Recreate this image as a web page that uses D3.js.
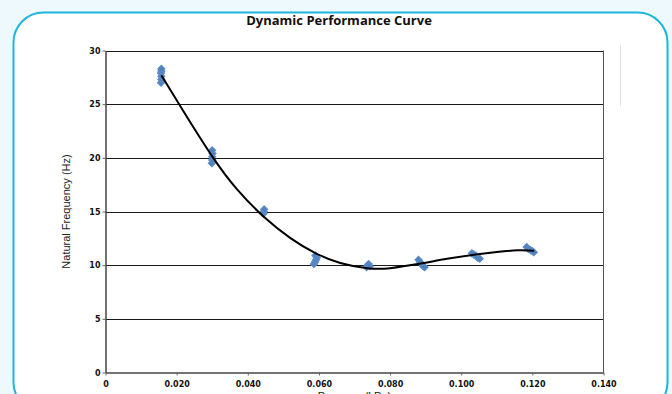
<!DOCTYPE html>
<html><head><meta charset="utf-8">
<script src="https://cdn.jsdelivr.net/npm/d3@7"></script>
<style>
html,body{margin:0;padding:0;background:#eef9fd;}
svg{display:block;}
</style></head>
<body>
<svg id="chart" width="672" height="394"></svg>
<script>
// ---- data ----
const title = "Dynamic Performance Curve";
const xLabel = "Pressure (kPa)";
const yLabel = "Natural Frequency (Hz)";
const xTicks = [0, 0.02, 0.04, 0.06, 0.08, 0.10, 0.12, 0.14];
const xTickLabels = ["0", "0.020", "0.040", "0.060", "0.080", "0.100", "0.120", "0.140"];
const yTicks = [0, 5, 10, 15, 20, 25, 30];
// measured points (x, natural frequency)
const pointX = [0.0156, 0.0157, 0.0157, 0.0156, 0.0157, 0.0157,
  0.0299, 0.0300, 0.0300, 0.0301, 0.0300,
  0.0444, 0.0445, 0.0446,
  0.0586, 0.0589, 0.0592, 0.0594, 0.0590,
  0.0734, 0.0737, 0.0740, 0.0743,
  0.0880, 0.0884, 0.0888, 0.0893, 0.0897,
  0.1030, 0.1035, 0.1041, 0.1046, 0.1052,
  0.1184, 0.1189, 0.1195, 0.1200, 0.1204];
const pointY = [27.0, 27.3, 27.6, 27.9, 28.1, 28.3,
  19.5, 19.8, 20.1, 20.4, 20.7,
  14.8, 15.0, 15.2,
  10.1, 10.3, 10.5, 10.7, 10.9,
  9.8, 10.0, 10.1, 9.9,
  10.5, 10.3, 10.1, 9.9, 9.8,
  11.1, 11.0, 10.9, 10.7, 10.6,
  11.7, 11.5, 11.4, 11.3, 11.2];
// fitted trend curve
const curveX = [0.0157, 0.022, 0.030, 0.037, 0.0445, 0.052, 0.059, 0.066, 0.0736, 0.080, 0.0886, 0.096, 0.1036, 0.110, 0.116, 0.1205];
const curveY = [27.7, 24.3, 20.14, 17.06, 14.51, 12.52, 11.12, 10.21, 9.72, 9.72, 10.15, 10.59, 10.97, 11.23, 11.38, 11.34];

// ---- layout ----
const svg = d3.select("#chart");
const plot = {left: 105.5, right: 603.5, top: 50.5, bottom: 372.5};

// card
svg.append("rect").attr("x", 13.5).attr("y", 12.5).attr("width", 654).attr("height", 400)
  .attr("rx", 30).attr("ry", 30).attr("fill", "#ffffff").attr("stroke", "#1eb6e0").attr("stroke-width", 2);

const x = d3.scaleLinear().domain([0, 0.14]).range([plot.left, plot.right]);
const y = d3.scaleLinear().domain([0, 30]).range([plot.bottom, plot.top]);

// gridlines
svg.append("g").selectAll("line").data(yTicks.filter(d => d > 0)).join("line")
  .attr("x1", plot.left).attr("x2", plot.right)
  .attr("y1", d => Math.round(y(d)) + 0.5).attr("y2", d => Math.round(y(d)) + 0.5)
  .attr("stroke", "#1a1a1a").attr("stroke-width", 1);
// right border
svg.append("line").attr("x1", plot.right).attr("x2", plot.right).attr("y1", plot.top).attr("y2", plot.bottom)
  .attr("stroke", "#555").attr("stroke-width", 1);
// faint line at right
svg.append("line").attr("x1", 620.5).attr("x2", 620.5).attr("y1", 45).attr("y2", 106)
  .attr("stroke", "#e4e4e4").attr("stroke-width", 1);

// axes
const xAxis = d3.axisBottom(x).tickValues(xTicks).tickFormat((d, i) => xTickLabels[i]).tickSize(3).tickSizeOuter(0);
const gx = svg.append("g").attr("transform", `translate(0,${plot.bottom})`).call(xAxis);
const yAxis = d3.axisLeft(y).tickValues(yTicks).tickSize(3).tickSizeOuter(0);
const gy = svg.append("g").attr("transform", `translate(${plot.left},0)`).call(yAxis);
[gx, gy].forEach(g => {
  g.select(".domain").attr("stroke", "#444").attr("stroke-width", 1.5);
  g.selectAll(".tick line").attr("stroke", "#666");
  g.selectAll("text").attr("font-family", "DejaVu Sans").attr("font-weight", "bold")
    .attr("font-size", "8px").attr("fill", "#111");
});
gx.selectAll("text").attr("dy", "1.05em");
gy.selectAll("text").attr("x", -5);

// markers (diamonds)
const diamond = d3.symbol().type(d3.symbolDiamond2).size(30);
svg.append("g").selectAll("path").data(pointX.map((v, i) => [v, pointY[i]])).join("path")
  .attr("d", diamond)
  .attr("transform", d => `translate(${x(d[0])},${y(d[1])})`)
  .attr("fill", "#4f81bd").attr("stroke", "#5a8bc8").attr("stroke-width", 1.2);

// trend curve
const line = d3.line().x(d => x(d[0])).y(d => y(d[1])).curve(d3.curveNatural);
svg.append("path").datum(curveX.map((v, i) => [v, curveY[i]]))
  .attr("d", line).attr("fill", "none").attr("stroke", "#000").attr("stroke-width", 2);

// title
svg.append("text").attr("x", 339).attr("y", 25).attr("text-anchor", "middle")
  .attr("font-family", "Open Sans").attr("font-weight", "bold").attr("font-size", "13px")
  .attr("fill", "#111").text(title);

// axis labels
svg.append("text").attr("transform", `translate(70,${(plot.top + plot.bottom) / 2}) rotate(-90)`)
  .attr("text-anchor", "middle").attr("font-family", "Liberation Sans").attr("font-size", "11px")
  .attr("fill", "#222").text(yLabel);
svg.append("text").attr("x", (plot.left + plot.right) / 2).attr("y", 400).attr("text-anchor", "middle")
  .attr("font-family", "Liberation Sans").attr("font-size", "11px").attr("fill", "#222").text(xLabel);
</script>
</body></html>
